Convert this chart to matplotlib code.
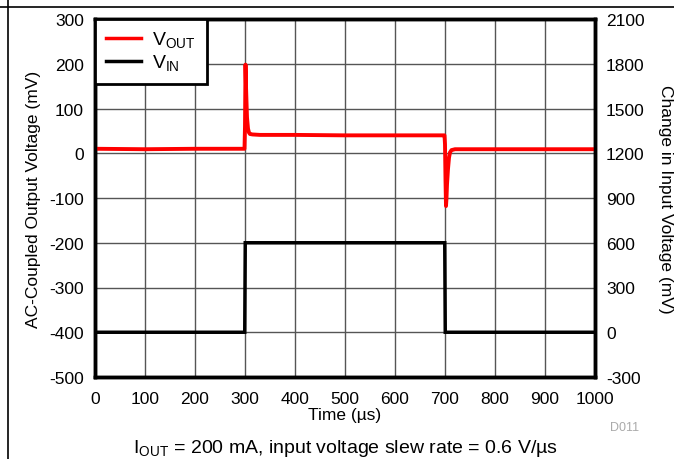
import matplotlib
matplotlib.use("Agg")
import matplotlib.pyplot as plt
from matplotlib.lines import Line2D

plt.rcParams['font.family'] = ['Liberation Sans', 'DejaVu Sans']
plt.rcParams['axes.unicode_minus'] = False

# ---- data ----
vout_t = [0, 100, 200, 299, 300, 301, 302, 304, 306, 308, 310, 315, 330, 400, 500, 600, 695, 699,
          700, 701, 702, 703, 704, 706, 708, 710, 713, 720, 750, 800, 900, 1000]
vout_v = [10, 9, 10, 10, 60, 198, 150, 80, 55, 46, 43, 42, 41, 41, 40, 40, 40, 40,
          20, -60, -118, -100, -70, -35, -10, 2, 7, 9, 9, 9, 9, 9]
vin_t = [0, 100, 200, 299.5, 300.5, 400, 500, 600, 699.5, 700.5, 800, 900, 1000]
vin_v = [0, 0, 0, 0, 600, 600, 600, 600, 600, 0, 0, 0, 0]

x_ticks = [0, 100, 200, 300, 400, 500, 600, 700, 800, 900, 1000]
left_ticks = [-500, -400, -300, -200, -100, 0, 100, 200, 300]
right_ticks = [-300, 0, 300, 600, 900, 1200, 1500, 1800, 2100]

W, H = 674, 460
fig = plt.figure(figsize=(W / 100, H / 100), dpi=100)
L, R, T, B = 95, 595, 20, 378
ax = fig.add_axes([L / W, 1 - B / H, (R - L) / W, (B - T) / H])
ax2 = ax.twinx()

fs = 12.5
ax.set_xlim(0, 1000)
ax.set_ylim(-500, 300)
ax2.set_ylim(-300, 2100)
ax.set_xticks(x_ticks)
ax.set_yticks(left_ticks)
ax2.set_yticks(right_ticks)
ax.tick_params(axis='y', length=0, labelsize=fs, pad=8)
ax.tick_params(axis='x', length=0, labelsize=fs, pad=10)
ax2.tick_params(length=0, labelsize=fs, pad=8)
ax.grid(True, color='#555555', lw=1.0)
ax.set_axisbelow(True)

for a in (ax, ax2):
    for s in a.spines.values():
        s.set_linewidth(2.5)
        s.set_color('black')

ax2.plot(vin_t, vin_v, color='black', lw=2.5, solid_joinstyle='miter')
ax2.plot(vout_t, [(v + 400) * 3 for v in vout_v], color='#ff0000', lw=2.8)

ax.set_ylabel('AC-Coupled Output Voltage (mV)', fontsize=fs, labelpad=6)
ax2.set_ylabel('Change in Input Voltage (mV)', fontsize=fs, rotation=270, labelpad=20)
ax.set_xlabel('Time (µs)', fontsize=fs, labelpad=1)

handles = [Line2D([], [], color='#ff0000', lw=2.5), Line2D([], [], color='black', lw=2.5)]
leg = ax2.legend(handles, ['V$_{\\mathregular{OUT}}$', 'V$_{\\mathregular{IN}}$'], loc='upper left',
                 fontsize=14, fancybox=False, framealpha=1, edgecolor='black',
                 borderaxespad=0, handlelength=1.8, handletextpad=0.6, labelspacing=0.15,
                 borderpad=0.55)
leg.get_frame().set_linewidth(2)

fig.text(610 / W, 1 - 428 / H, 'D011', color='#aaaaaa', fontsize=9, ha='left', va='center')
fig.text(345 / W, 1 - 449 / H, 'I$_{\\mathregular{OUT}}$ = 200 mA, input voltage slew rate = 0.6 V/µs',
         fontsize=14, ha='center', va='center')

fig.add_artist(Line2D([0, 1], [1 - 7.5 / H, 1 - 7.5 / H], color='black', lw=1.2, transform=fig.transFigure))
fig.add_artist(Line2D([7.5 / W, 7.5 / W], [0, 1], color='black', lw=1.2, transform=fig.transFigure))

fig.savefig('out.png', dpi=100)
